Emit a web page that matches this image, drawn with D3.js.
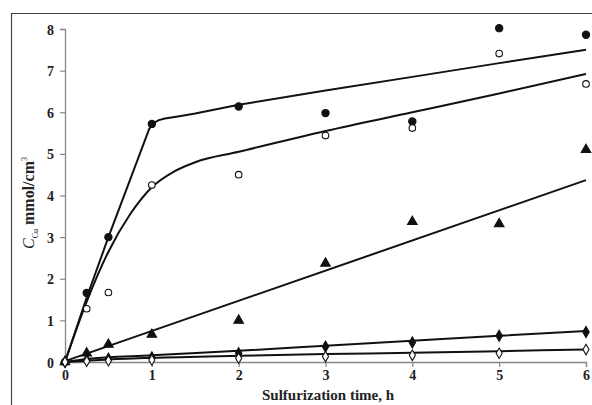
<!DOCTYPE html>
<html>
<head>
<meta charset="utf-8">
<script src="https://cdn.jsdelivr.net/npm/d3@7"></script>
<style>
  body { margin: 0; background: #fff; }
  svg { display: block; }
  text { font-family: "Liberation Serif", "DejaVu Serif", serif; font-weight: bold; fill: #222; }
</style>
</head>
<body>
<svg id="chart" width="592" height="405"></svg>
<script>
// measured times (h)
const times = [0, 0.25, 0.5, 1, 2, 3, 4, 5, 6];

// measured concentrations, one array per marker type
const filledCircles = [0, 1.66, 3.0, 5.72, 6.14, 5.98, 5.78, 8.02, 7.86];
const openCircles   = [0, 1.28, 1.67, 4.25, 4.5, 5.44, 5.62, 7.41, 6.68];
const triangles     = [0, 0.21, 0.42, 0.66, 1.0, 2.37, 3.37, 3.32, 5.1];
const filledDiam    = [0, 0.05, 0.08, 0.11, 0.21, 0.37, 0.47, 0.63, 0.72];
const openDiam      = [0, 0.02, 0.03, 0.05, 0.09, 0.13, 0.16, 0.21, 0.3];

// fitted curves: [time, value]
const fitFilledCircles = [[0, 0], [0.25, 1.55], [0.5, 3.0], [0.75, 4.38], [0.97, 5.6], [1.02, 5.74], [1.08, 5.81], [1.15, 5.85], [1.3, 5.9], [1.5, 5.97], [2, 6.18], [3, 6.52], [4, 6.85], [5, 7.18], [6, 7.5]];
const fitOpenCircles   = [[0, 0], [0.25, 1.45], [0.5, 2.65], [0.75, 3.55], [1, 4.2], [1.25, 4.57], [1.5, 4.8], [2, 5.05], [3, 5.55], [4, 6.0], [5, 6.45], [6, 6.92]];
const fitTriangles     = [[0, 0.02], [6, 4.37]];
const fitFilledDiam    = [[0, 0], [0.25, 0.07], [1, 0.16], [2, 0.27], [3, 0.39], [4, 0.51], [5, 0.63], [6, 0.745]];
const fitOpenDiam      = [[0, 0], [0.5, 0.06], [1, 0.1], [2, 0.15], [3, 0.19], [4, 0.22], [5, 0.26], [6, 0.3]];

const xTicks = [0, 1, 2, 3, 4, 5, 6];
const yTicks = [0, 1, 2, 3, 4, 5, 6, 7, 8];

const svg = d3.select("#chart");

// cadre de la figure
svg.append("path")
    .attr("d", "M11.5,405V13.5H592")
    .attr("fill", "none")
    .attr("stroke", "#444")
    .attr("stroke-width", 1.2);

const x = d3.scaleLinear().domain([0, 6]).range([65, 586]);
const y = d3.scaleLinear().domain([0, 8]).range([362, 29]);

// axes
const xAxis = svg.append("g")
    .attr("transform", `translate(0,${y(0)})`)
    .call(d3.axisBottom(x).tickValues(xTicks).tickSize(5).tickPadding(3).tickFormat(d3.format("d")));
const yAxis = svg.append("g")
    .attr("transform", `translate(${x(0)},0)`)
    .call(d3.axisLeft(y).tickValues(yTicks).tickSize(5).tickPadding(6).tickFormat(d3.format("d")));

[xAxis, yAxis].forEach(a => {
  a.select(".domain").attr("stroke", "#888").attr("stroke-width", 1.3);
  a.selectAll(".tick line").attr("stroke", "#888").attr("stroke-width", 1.2);
  a.selectAll(".tick text")
    .attr("fill", "#222")
    .style("font-size", "14px")
    .style("font-family", "'Liberation Serif', serif")
    .style("font-weight", "bold");
});
yAxis.selectAll(".tick text").attr("dy", "0.36em");

// courbes ajustées
const lineSmooth = d3.line()
    .x(d => x(d[0]))
    .y(d => y(d[1]))
    .curve(d3.curveMonotoneX);
const lineStraight = d3.line()
    .x(d => x(d[0]))
    .y(d => y(d[1]));

svg.append("path")
    .datum(fitFilledCircles)
    .attr("d", lineStraight)
    .attr("fill", "none")
    .attr("stroke", "#111")
    .attr("stroke-width", 2)
    .attr("stroke-linejoin", "round");

[fitOpenCircles, fitTriangles, fitFilledDiam, fitOpenDiam].forEach(f => {
  svg.append("path")
      .datum(f)
      .attr("d", lineSmooth)
      .attr("fill", "none")
      .attr("stroke", "#111")
      .attr("stroke-width", 2);
});

// points mesurés
const series = [
  { vals: filledCircles, type: d3.symbolCircle, size: 42, fill: "#111" },
  { vals: openCircles, type: d3.symbolCircle, size: 34, fill: "#fff" },
  { vals: triangles, type: d3.symbolTriangle, size: 40, fill: "#111" },
  { vals: filledDiam, type: d3.symbolDiamond, size: 36, fill: "#111" },
  { vals: openDiam, type: d3.symbolDiamond, size: 32, fill: "#fff" }
];

series.forEach(s => {
  svg.append("g").selectAll("path")
      .data(s.vals.map((v, i) => [times[i], v]))
      .enter().append("path")
      .attr("transform", d => `translate(${x(d[0])},${y(d[1])})`)
      .attr("d", d3.symbol().type(s.type).size(s.size))
      .attr("fill", s.fill)
      .attr("stroke", "#111")
      .attr("stroke-width", 1.1);
});

// titres des axes
svg.append("text")
    .attr("x", 328)
    .attr("y", 400)
    .attr("text-anchor", "middle")
    .style("font-size", "15px")
    .text("Sulfurization time, h");

const yTitle = svg.append("text")
    .attr("transform", "translate(34,203) rotate(-90)")
    .attr("text-anchor", "middle")
    .style("font-size", "16px");
yTitle.append("tspan").style("font-style", "italic").style("font-weight", "normal").text("C");
yTitle.append("tspan").attr("dy", 4).style("font-size", "8px").style("font-weight", "normal").text("Cu");
yTitle.append("tspan").attr("dy", -4).text(" mmol/cm");
yTitle.append("tspan").attr("dy", -7).style("font-size", "8px").style("font-weight", "normal").text("3");
</script>
</body>
</html>
